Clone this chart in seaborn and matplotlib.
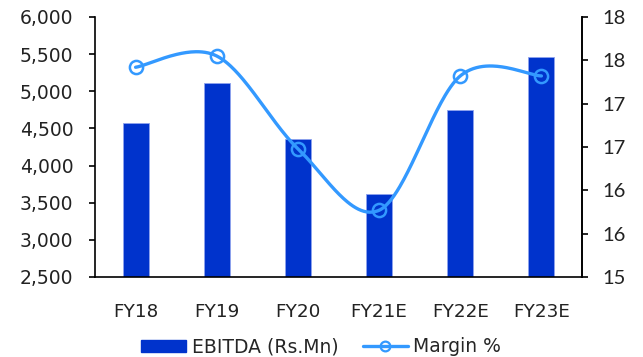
import numpy as np
import pandas as pd
import matplotlib
matplotlib.use("Agg")
import matplotlib.pyplot as plt
from matplotlib.lines import Line2D
from matplotlib.patches import Patch
from matplotlib.ticker import FuncFormatter, FixedLocator
import seaborn as sns

# Data
years = ["FY18", "FY19", "FY20", "FY21E", "FY22E", "FY23E"]
ebitda = [4575, 5110, 4360, 3620, 4745, 5460]
margin = [17.42, 17.55, 16.48, 15.77, 17.32, 17.32]

ebitda_ticks = [2500, 3000, 3500, 4000, 4500, 5000, 5500, 6000]
margin_ticks = [15, 15.5, 16, 16.5, 17, 17.5, 18]
margin_tick_labels = ["15", "16", "16", "17", "17", "18", "18"]

bar_color = "#0033CC"
line_color = "#3399FF"

sns.set_style("white")
plt.rcParams["font.family"] = ["DejaVu Sans"]

fig = plt.figure(figsize=(6.43, 3.57), dpi=100)
ax = fig.add_axes([95 / 643, 80 / 357, 487 / 643, 260 / 357])

df = pd.DataFrame({"year": years, "ebitda": ebitda})
sns.barplot(data=df, x="year", y="ebitda", ax=ax, color=bar_color,
            saturation=1, width=0.32, edgecolor="#8fa3ee", linewidth=0.6)

ax.set_xlim(-0.5, len(years) - 0.5)
ax.set_ylim(ebitda_ticks[0], ebitda_ticks[-1])
ax.set_yticks(ebitda_ticks)
ax.yaxis.set_major_formatter(FuncFormatter(lambda v, p: f"{int(v):,}"))
ax.set_xlabel("")
ax.set_ylabel("")

# Category boundaries carry the x ticks; labels sit at the centres
ax.xaxis.set_minor_locator(FixedLocator(np.arange(-0.5, len(years), 1.0)))
ax.tick_params(axis="x", which="major", length=0, pad=19, labelsize=13.2, colors="#222222")
ax.tick_params(axis="x", which="minor", length=5, width=1.2, direction="out", color="black")
ax.tick_params(axis="y", length=4.5, width=1.2, direction="out", labelsize=13.5,
               colors="#222222", pad=11)
ax.tick_params(axis="y", color="black")
for side in ["left", "bottom", "right"]:
    ax.spines[side].set_color("black")
    ax.spines[side].set_linewidth(1.2)
ax.spines["top"].set_visible(False)

# Margin on secondary axis with a smoothed (Bezier) curve through the points
ax2 = ax.twinx()
x = np.arange(len(margin), dtype=float)
y = np.array(margin, dtype=float)
px = np.concatenate([[x[0]], x, [x[-1]]])
py = np.concatenate([[y[0]], y, [y[-1]]])
cx, cy = [], []
t = np.linspace(0, 1, 60)
for i in range(len(x) - 1):
    p0 = np.array([px[i + 1], py[i + 1]])
    p3 = np.array([px[i + 2], py[i + 2]])
    p1 = p0 + (np.array([px[i + 2], py[i + 2]]) - np.array([px[i], py[i]])) / 6
    p2 = p3 - (np.array([px[i + 3], py[i + 3]]) - np.array([px[i + 1], py[i + 1]])) / 6
    b = ((1 - t) ** 3)[:, None] * p0 + (3 * (1 - t) ** 2 * t)[:, None] * p1 \
        + (3 * (1 - t) * t ** 2)[:, None] * p2 + (t ** 3)[:, None] * p3
    cx.extend(b[:, 0])
    cy.extend(b[:, 1])
ax2.plot(cx, cy, color=line_color, linewidth=2.4, solid_capstyle="round")
ax2.plot(x, y, linestyle="none", marker="o", markersize=9.5, markerfacecolor="none",
         markeredgecolor=line_color, markeredgewidth=1.8)

ax2.set_ylim(margin_ticks[0], margin_ticks[-1])
ax2.set_yticks(margin_ticks)
ax2.set_yticklabels(margin_tick_labels)
ax2.tick_params(axis="y", length=4.5, width=1.2, direction="out", labelsize=14.5,
                colors="#222222", pad=10)
ax2.tick_params(axis="y", color="black")
for lab in ax2.get_yticklabels():
    lab.set_family(["Lato", "DejaVu Sans"])
ax2.spines["right"].set_color("black")
ax2.spines["right"].set_linewidth(1.2)
ax2.spines["top"].set_visible(False)
ax2.spines["left"].set_visible(False)
ax2.spines["bottom"].set_visible(False)
ax2.grid(False)
ax.grid(False)

handles = [
    Patch(facecolor=bar_color, edgecolor=bar_color),
    Line2D([0], [0], color=line_color, linewidth=2.4, marker="o", markersize=7,
           markerfacecolor="none", markeredgecolor=line_color, markeredgewidth=1.6),
]
fig.legend(handles, ["EBITDA (Rs.Mn)", "Margin %"], loc="center",
           bbox_to_anchor=(321 / 643, 1 - 347 / 357), ncol=2, frameon=False,
           fontsize=13.5, handlelength=2.4, handleheight=0.55, handletextpad=0.3,
           columnspacing=1.3, borderpad=0)

fig.savefig("out.png", dpi=100)
